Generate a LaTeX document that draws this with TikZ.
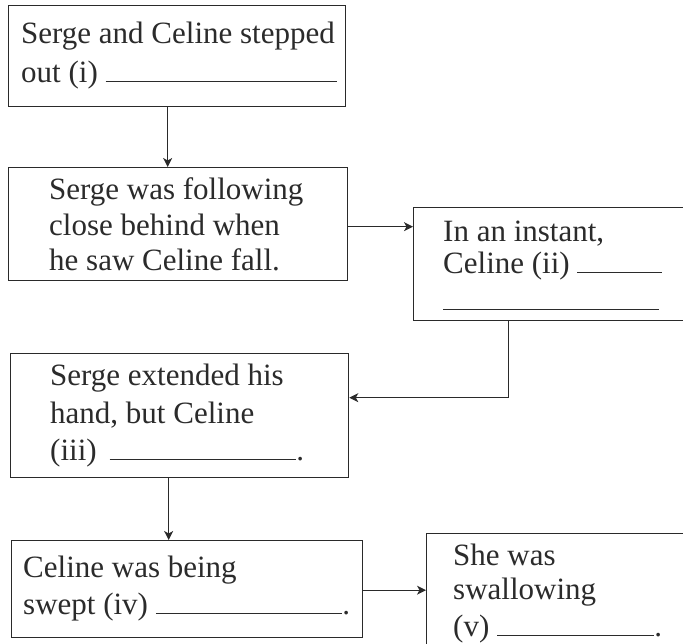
\documentclass[tikz,border=0pt]{standalone}
\usepackage{fontspec}
\setmainfont{Liberation Serif}
\usetikzlibrary{arrows.meta}
\definecolor{ink}{HTML}{2A2A2A}
\definecolor{txtc}{HTML}{2B2B2B}
\newcommand{\blankfill}{\leaders\hrule height 1.3pt depth 0pt\hfill\kern0pt}
\tikzset{
  box/.style={draw=ink, line width=1.3pt, rectangle, inner sep=0pt, anchor=north west},
  txt/.style={inner sep=0pt, anchor=base west, text=txtc, font=\fontsize{31}{36}\selectfont},
  arr/.style={draw=ink, line width=1pt, -{Stealth[length=9pt,width=9pt,inset=2.5pt]}}
}
\begin{document}
\begin{tikzpicture}[x=1pt,y=-1pt]
\useasboundingbox (0,0) rectangle (683,643);
\clip (0,0) rectangle (683,643);
\fill[white] (0,0) rectangle (683,643);
% boxes
\node[box, minimum width=337pt, minimum height=101pt] (b1) at (8,5) {};
\node[box, minimum width=339pt, minimum height=113pt] (b2) at (8,167) {};
\node[box, minimum width=300pt, minimum height=113pt] (b3) at (413,207) {};
\node[box, minimum width=338pt, minimum height=124pt] (b4) at (10,353) {};
\node[box, minimum width=351pt, minimum height=97pt] (b5) at (11,540) {};
\node[box, minimum width=300pt, minimum height=140pt] (b6) at (426,533) {};
% texts
\node[txt] (t1a) at (21,43) {Serge and Celine stepped};
\node[txt] (t1b) at (21,82) {\makebox[316pt][l]{out (i) \blankfill}};
\node[txt] (t2a) at (49,199) {Serge was following};
\node[txt] (t2b) at (49,235) {close behind when};
\node[txt] (t2c) at (49,270) {he saw Celine fall.};
\node[txt] (t3a) at (443,241) {In an instant,};
\node[txt] (t3b) at (443,273) {\makebox[219pt][l]{Celine (ii) \blankfill}};
\node[txt] (t3c) at (443,310) {\makebox[216pt][l]{\blankfill}};
\node[txt] (t4a) at (50,385) {Serge extended his};
\node[txt] (t4b) at (50,423) {hand, but Celine};
\node[txt] (t4c) at (50,460) {\makebox[254pt][l]{(iii)\hspace{13pt}\blankfill.}};
\node[txt] (t5a) at (23,577) {Celine was being};
\node[txt] (t5b) at (23,614) {\makebox[327pt][l]{swept (iv) \blankfill.}};
\node[txt] (t6a) at (453,565) {She was};
\node[txt] (t6b) at (453,599) {swallowing};
\node[txt] (t6c) at (453,636) {\makebox[209pt][l]{(v) \blankfill.}};
% connectors
\draw[arr] ([xshift=-9.5pt]b1.south) -- ([xshift=-9.5pt]b1.south |- b2.north);
\draw[arr] ([yshift=-2.5pt]b2.east) -- ([yshift=-2.5pt]b2.east -| b3.west);
\draw[arr] ([xshift=95pt]b3.south west) |- ([yshift=18pt]b4.east);
\draw[arr] ([xshift=-11pt]b4.south) -- ([xshift=-11pt]b4.south |- b5.north);
\draw[arr] ([yshift=-1pt]b5.east) -- ([yshift=-1pt]b5.east -| b6.west);
\end{tikzpicture}
\end{document}
